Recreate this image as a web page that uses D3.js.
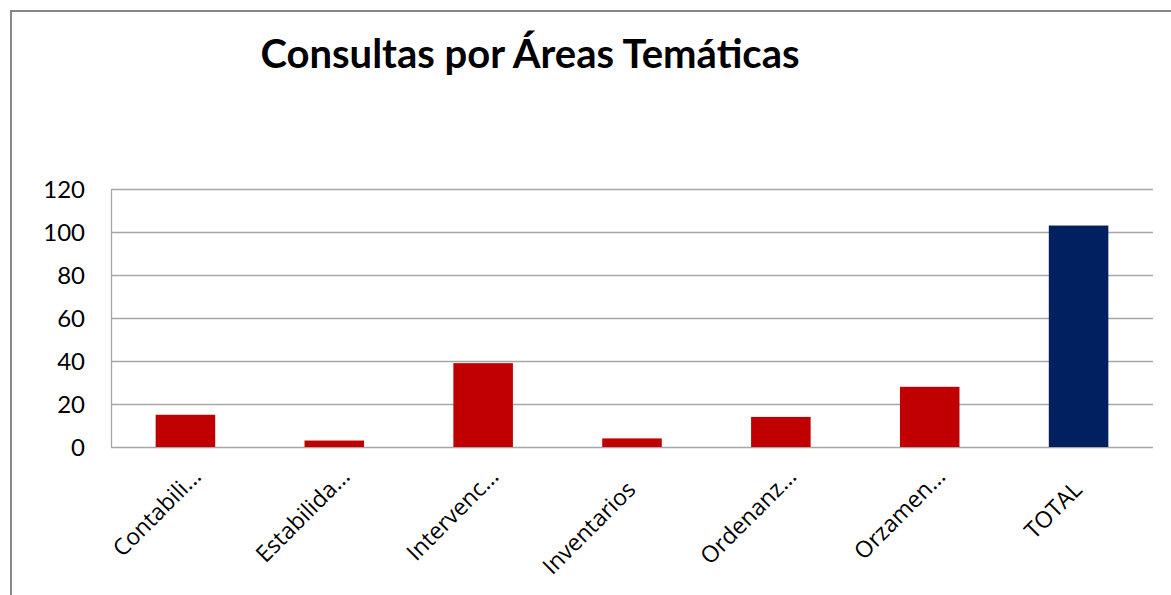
<!DOCTYPE html>
<html>
<head>
<meta charset="utf-8">
<script src="https://cdn.jsdelivr.net/npm/d3@7"></script>
<style>
  body { margin: 0; background: #fff; }
  svg { display: block; }
</style>
</head>
<body>
<svg id="chart" width="1171" height="595"></svg>
<script>
// Chart data
const categories = ["Contabili...", "Estabilida...", "Intervenc...", "Inventarios", "Ordenanz...", "Orzamen...", "TOTAL"];
const values = [15, 3, 39, 4, 14, 28, 103];
const yTicks = [0, 20, 40, 60, 80, 100, 120];

const svg = d3.select("#chart");
const width = 1171, height = 595;

// Outer frame of the chart
svg.append("rect")
    .attr("x", 11).attr("y", 11)
    .attr("width", width + 10).attr("height", height + 10)
    .attr("fill", "#fff")
    .attr("stroke", "#878787")
    .attr("stroke-width", 2);

// Title
svg.append("text")
    .attr("x", 530).attr("y", 68)
    .attr("text-anchor", "middle")
    .attr("font-family", "Lato, 'Open Sans', sans-serif")
    .attr("font-weight", "bold")
    .attr("font-size", 40)
    .attr("fill", "#000")
    .text("Consultas por Áreas Temáticas");

const plot = { left: 111, right: 1153, top: 189, bottom: 447 };

const x = d3.scaleBand()
    .domain(categories)
    .range([plot.left, plot.right])
    .paddingInner(0.6)
    .paddingOuter(0.3);

const y = d3.scaleLinear()
    .domain([0, 120])
    .range([plot.bottom, plot.top]);

// Gridlines
svg.append("g")
    .selectAll("line")
    .data(yTicks)
    .enter()
    .append("line")
    .attr("x1", plot.left).attr("x2", plot.right)
    .attr("y1", d => Math.round(y(d)) + 0.5)
    .attr("y2", d => Math.round(y(d)) + 0.5)
    .attr("stroke", "#a6a6a6")
    .attr("stroke-width", 1.3);

// Left axis line
svg.append("line")
    .attr("x1", plot.left + 0.5).attr("x2", plot.left + 0.5)
    .attr("y1", plot.top).attr("y2", plot.bottom)
    .attr("stroke", "#a6a6a6")
    .attr("stroke-width", 1.3);

// Y tick labels
svg.append("g")
    .selectAll("text")
    .data(yTicks)
    .enter()
    .append("text")
    .attr("x", 85)
    .attr("y", d => y(d) + 9)
    .attr("text-anchor", "end")
    .attr("font-family", "Lato, 'Open Sans', sans-serif")
    .attr("font-size", 24)
    .attr("fill", "#000")
    .text(d => d);

// Bars
svg.append("g")
    .selectAll("rect")
    .data(categories)
    .enter()
    .append("rect")
    .attr("x", d => x(d))
    .attr("y", (d, i) => y(values[i]))
    .attr("width", x.bandwidth())
    .attr("height", (d, i) => y(0) - y(values[i]))
    .attr("fill", d => d === "TOTAL" ? "#002060" : "#c00000");

// X labels, rotated; truncated ones sit a bit further along the slant
svg.append("g")
    .selectAll("text")
    .data(categories)
    .enter()
    .append("text")
    .attr("text-anchor", "end")
    .attr("transform", d => {
        const cut = d.endsWith("...");
        const cx = x(d) + x.bandwidth() / 2 + (cut ? 17 : 5);
        const cy = cut ? 478 : 491;
        return `translate(${cx},${cy}) rotate(-45)`;
    })
    .attr("font-family", "'Open Sans', sans-serif")
    .attr("font-size", 23)
    .attr("fill", "#000")
    .text(d => d);
</script>
</body>
</html>
